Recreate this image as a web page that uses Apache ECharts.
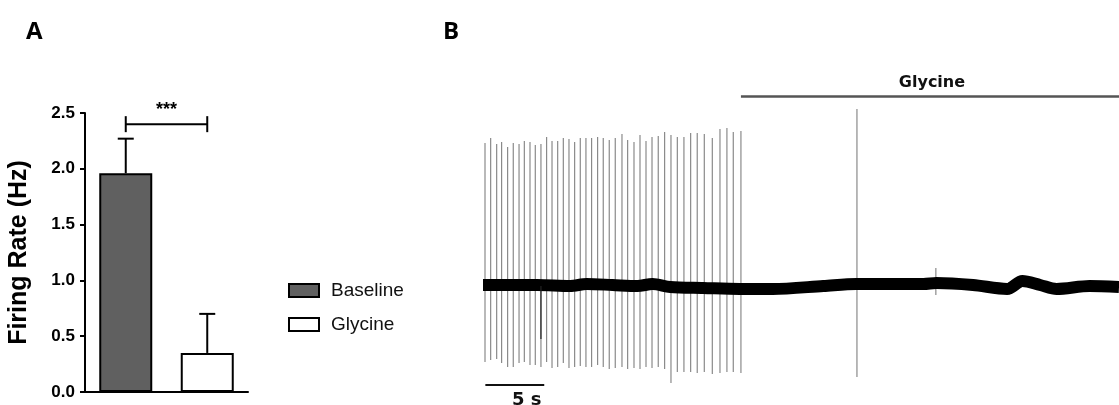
<!DOCTYPE html>
<html>
<head>
<meta charset="utf-8">
<script src="https://cdn.jsdelivr.net/npm/echarts@6/dist/echarts.min.js"></script>
<style>
  html, body { margin: 0; background: #fff; }
  #chart { width: 1119px; height: 405px; }
</style>
</head>
<body>
<div id="chart"></div>
<script>
// ---- panel A: mean firing rate ----
const groups = ['Baseline', 'Glycine']
const rateMean = [1.96, 0.35]
const rateUpper = [2.27, 0.70]      // mean + SEM
const rateTicks = [0, 0.5, 1.0, 1.5, 2.0, 2.5]
const sigLevel = 2.40
const sigText = '***'

// ---- panel B: recording trace (time in s, amplitude in arbitrary units) ----
const spikeTimes = [
  0.17, 0.65, 1.16, 1.58, 2.09, 2.57, 3.06, 3.51, 3.99, 4.44,
  4.92, 5.40, 5.86, 6.34, 6.82, 7.30, 7.78, 8.26, 8.74, 9.22,
  9.73, 10.21, 10.72, 11.23, 11.80, 12.28, 12.82, 13.33, 13.84, 14.35,
  14.88, 15.42, 15.96, 16.50, 17.06, 17.63, 18.19, 18.79, 19.47, 20.12,
  20.71, 21.25, 21.90
]
const spikeTops = [
  143, 148, 142, 144, 139, 143, 142, 145, 144, 141,
  142, 149, 145, 145, 148, 147, 144, 148, 148, 148,
  149, 148, 146, 148, 152, 146, 144, 151, 145, 149,
  150, 154, 151, 149, 149, 153, 153, 152, 148, 157,
  158, 154, 155
]
const spikeBottoms = [
  -76, -74, -73, -77, -81, -81, -77, -76, -79, -79,
  -81, -76, -82, -81, -77, -82, -81, -80, -81, -81,
  -79, -81, -83, -82, -81, -83, -82, -83, -81, -82,
  -81, -83, -97, -86, -86, -86, -87, -86, -88, -87,
  -86, -86, -87
]
const glycineSpikeTimes = [31.75, 38.45]
const glycineSpikeTops = [177, 18]
const glycineSpikeBottoms = [-91, -9]
const artefactTimes = [4.92]
const artefactBottoms = [-53]
const traceTimes = [0, 4.6, 7.4, 8.8, 11, 13.1, 14.4, 15.9, 18.7, 21.8, 24.6, 28.9,
  31.7, 34.6, 37.4, 38.5, 41.6, 44.5, 45.8, 47.3, 48.7, 51.5, 54]
const traceLevel = [1, 1, 0, 2, 1, 0, 2, -1, -2, -3, -3, 0,
  2, 2, 2, 3, 1, -3, 5, 1, -3, 0, -1]
const glycineStart = 21.9
const recordEnd = 54
const glycineLevel = 189.5
const scaleStart = 0.2
const scaleLength = 5
const scaleLevel = -99

const chart = echarts.init(document.getElementById('chart'))

const black = '#000'
const spikeGray = '#8a8a8a'

const option = {
  animation: false,
  backgroundColor: '#fff',
  title: [
    { text: 'A', left: 21, top: 15, textStyle: { fontSize: 24, fontWeight: 'bold', fontFamily: 'Open Sans', color: black } },
    { text: 'B', left: 438, top: 15, textStyle: { fontSize: 24, fontWeight: 'bold', fontFamily: 'Open Sans', color: black } }
  ],
  legend: {
    orient: 'vertical',
    left: 283,
    top: 276,
    icon: 'rect',
    itemWidth: 30,
    itemHeight: 13,
    itemGap: 15,
    textStyle: { fontSize: 19, fontFamily: 'Liberation Sans', color: '#111', padding: [0, 0, 0, 7] },
    data: [
      { name: 'Baseline', itemStyle: { color: '#606060', borderColor: black, borderWidth: 2 } },
      { name: 'Glycine', itemStyle: { color: '#fff', borderColor: black, borderWidth: 2 } }
    ]
  },
  grid: [
    { left: 85, top: 113, width: 163, height: 279, outerBoundsMode: 'none' },
    { left: 483, top: 76, width: 636, height: 315, outerBoundsMode: 'none' }
  ],
  xAxis: [
    {
      gridIndex: 0,
      type: 'category',
      data: groups,
      axisLine: { lineStyle: { color: black, width: 2 } },
      axisTick: { show: false },
      axisLabel: { show: false }
    },
    { gridIndex: 1, type: 'value', min: 0, max: recordEnd, show: false }
  ],
  yAxis: [
    {
      gridIndex: 0,
      type: 'value',
      min: rateTicks[0],
      max: rateTicks[rateTicks.length - 1],
      interval: 0.5,
      name: 'Firing Rate (Hz)',
      nameLocation: 'middle',
      nameGap: 53,
      nameTextStyle: { fontSize: 25, fontWeight: 'bold', fontFamily: 'Liberation Sans', color: black },
      axisLine: { show: true, lineStyle: { color: black, width: 2 } },
      axisTick: { show: true, length: 5, lineStyle: { color: black, width: 2 } },
      axisLabel: {
        margin: 10,
        fontSize: 17,
        fontWeight: 'bold',
        fontFamily: 'Liberation Sans',
        color: black,
        formatter: v => v.toFixed(1)
      },
      splitLine: { show: false }
    },
    { gridIndex: 1, type: 'value', min: -105, max: 210, show: false }
  ],
  series: [
    {
      name: 'Baseline',
      type: 'bar',
      xAxisIndex: 0,
      yAxisIndex: 0,
      barWidth: 53,
      barGap: '-100%',
      data: [rateMean[0], '-'],
      itemStyle: { color: '#606060', borderColor: black, borderWidth: 2 }
    },
    {
      name: 'Glycine',
      type: 'bar',
      xAxisIndex: 0,
      yAxisIndex: 0,
      barWidth: 53,
      barGap: '-100%',
      data: ['-', rateMean[1]],
      itemStyle: { color: '#fff', borderColor: black, borderWidth: 2 }
    },
    {
      // upper error bars
      type: 'custom',
      xAxisIndex: 0,
      yAxisIndex: 0,
      z: 5,
      data: groups.map((g, i) => [i, rateMean[i], rateUpper[i]]),
      renderItem: (params, api) => {
        const base = api.coord([api.value(0), api.value(1)])
        const top = api.coord([api.value(0), api.value(2)])
        const st = { stroke: black, lineWidth: 2 }
        return {
          type: 'group',
          children: [
            { type: 'line', shape: { x1: base[0], y1: base[1], x2: top[0], y2: top[1] }, style: st },
            { type: 'line', shape: { x1: top[0] - 8, y1: top[1], x2: top[0] + 8, y2: top[1] }, style: st }
          ]
        }
      }
    },
    {
      // significance bracket
      type: 'custom',
      xAxisIndex: 0,
      yAxisIndex: 0,
      clip: false,
      data: [[0, 1, sigLevel]],
      renderItem: (params, api) => {
        const a = api.coord([api.value(0), api.value(2)])
        const b = api.coord([api.value(1), api.value(2)])
        const st = { stroke: black, lineWidth: 2 }
        return {
          type: 'group',
          children: [
            { type: 'line', shape: { x1: a[0], y1: a[1], x2: b[0], y2: b[1] }, style: st },
            { type: 'line', shape: { x1: a[0], y1: a[1] - 8, x2: a[0], y2: a[1] + 8 }, style: st },
            { type: 'line', shape: { x1: b[0], y1: b[1] - 8, x2: b[0], y2: b[1] + 8 }, style: st },
            {
              type: 'text',
              style: {
                text: sigText, x: (a[0] + b[0]) / 2, y: a[1] - 14,
                align: 'center', verticalAlign: 'middle',
                fontSize: 18, fontWeight: 'bold', fontFamily: 'Liberation Sans', fill: black
              }
            }
          ]
        }
      }
    },
    {
      // action potentials
      type: 'custom',
      xAxisIndex: 1,
      yAxisIndex: 1,
      clip: false,
      z: 2,
      data: spikeTimes.map((t, i) => [t, spikeTops[i], spikeBottoms[i]])
        .concat(glycineSpikeTimes.map((t, i) => [t, glycineSpikeTops[i], glycineSpikeBottoms[i]])),
      renderItem: (params, api) => {
        const p1 = api.coord([api.value(0), api.value(1)])
        const p2 = api.coord([api.value(0), api.value(2)])
        return {
          type: 'line',
          shape: { x1: p1[0], y1: p1[1], x2: p2[0], y2: p2[1] },
          style: { stroke: spikeGray, lineWidth: 1.2 }
        }
      }
    },
    {
      // baseline noise band
      type: 'line',
      xAxisIndex: 1,
      yAxisIndex: 1,
      z: 3,
      symbol: 'none',
      smooth: 0.3,
      data: traceTimes.map((t, i) => [t, traceLevel[i]]),
      lineStyle: { color: black, width: 12 }
    },
    {
      // downward artefact
      type: 'custom',
      xAxisIndex: 1,
      yAxisIndex: 1,
      z: 4,
      data: artefactTimes.map((t, i) => [t, 0, artefactBottoms[i]]),
      renderItem: (params, api) => {
        const p1 = api.coord([api.value(0), api.value(1)])
        const p2 = api.coord([api.value(0), api.value(2)])
        return {
          type: 'line',
          shape: { x1: p1[0], y1: p1[1], x2: p2[0], y2: p2[1] },
          style: { stroke: '#222', lineWidth: 1.2 }
        }
      }
    },
    {
      // glycine application bar
      type: 'custom',
      xAxisIndex: 1,
      yAxisIndex: 1,
      clip: false,
      data: [[glycineStart, recordEnd, glycineLevel]],
      renderItem: (params, api) => {
        const a = api.coord([api.value(0), api.value(2)])
        const b = api.coord([api.value(1), api.value(2)])
        return {
          type: 'group',
          children: [
            { type: 'line', shape: { x1: a[0], y1: a[1], x2: b[0], y2: b[1] }, style: { stroke: '#555', lineWidth: 2.5 } },
            {
              type: 'text',
              style: {
                text: 'Glycine', x: (a[0] + b[0]) / 2 + 2, y: a[1] - 14,
                align: 'center', verticalAlign: 'middle',
                fontSize: 16, fontWeight: 'bold', fontFamily: 'DejaVu Sans', fill: '#111'
              }
            }
          ]
        }
      }
    },
    {
      // time scale bar
      type: 'custom',
      xAxisIndex: 1,
      yAxisIndex: 1,
      clip: false,
      data: [[scaleStart, scaleStart + scaleLength, scaleLevel]],
      renderItem: (params, api) => {
        const a = api.coord([api.value(0), api.value(2)])
        const b = api.coord([api.value(1), api.value(2)])
        return {
          type: 'group',
          children: [
            { type: 'line', shape: { x1: a[0], y1: a[1], x2: b[0], y2: b[1] }, style: { stroke: '#111', lineWidth: 2 } },
            {
              type: 'text',
              style: {
                text: '5 s', x: (a[0] + b[0]) / 2 + 12, y: a[1] + 6,
                align: 'center', verticalAlign: 'top',
                fontSize: 18, fontWeight: 'bold', fontFamily: 'DejaVu Sans', fill: '#111'
              }
            }
          ]
        }
      }
    }
  ]
}

chart.setOption(option)
</script>
</body>
</html>
